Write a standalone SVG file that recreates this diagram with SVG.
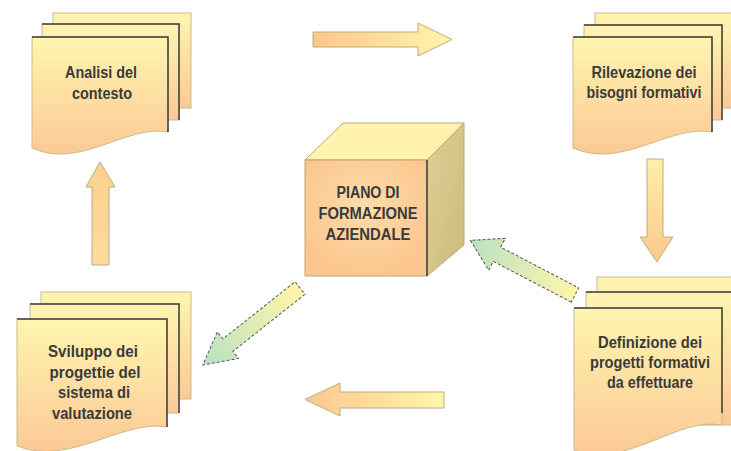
<svg xmlns="http://www.w3.org/2000/svg" width="731" height="451" viewBox="0 0 731 451">
<style>
.sheet{fill:url(#sheetGrad);stroke:#c9bb8c;stroke-width:1}
.edge{fill:none;stroke:#3d3d3d;stroke-width:1.5}
.t{font-family:"Liberation Sans Narrow","Liberation Sans",Arial,sans-serif;font-weight:bold;font-size:16px;fill:#3a3a3a;text-anchor:middle}
.arr{stroke:#bcae7c;stroke-width:1}
.darr{fill:url(#diagGrad);stroke:#555;stroke-width:1;stroke-dasharray:3 2}
</style>
<defs>
<linearGradient id="sheetGrad" x1="0" y1="0" x2="0" y2="1">
<stop offset="0" stop-color="#fff5b0"/><stop offset="1" stop-color="#fcc995"/>
</linearGradient>
<radialGradient id="cubeFront" cx="0.5" cy="0.4" r="0.6">
<stop offset="0" stop-color="#fedcaa"/><stop offset="1" stop-color="#fbc68e"/>
</radialGradient>
<linearGradient id="cubeRight" x1="0" y1="0" x2="1" y2="1">
<stop offset="0" stop-color="#e0d095"/><stop offset="1" stop-color="#cdb97c"/>
</linearGradient>
<linearGradient id="hGrad" x1="0" y1="0" x2="1" y2="0">
<stop offset="0" stop-color="#fdc68f"/><stop offset="1" stop-color="#fff6a8"/>
</linearGradient>
<linearGradient id="upGrad" x1="0" y1="0" x2="0" y2="1">
<stop offset="0" stop-color="#fdcf90"/><stop offset="1" stop-color="#fddb9c"/>
</linearGradient>
<linearGradient id="downGrad" x1="0" y1="0" x2="0" y2="1">
<stop offset="0" stop-color="#ffeeaa"/><stop offset="1" stop-color="#fcc890"/>
</linearGradient>
<linearGradient id="diagGrad" x1="0" y1="0" x2="1" y2="0">
<stop offset="0" stop-color="#fff6a8"/><stop offset="1" stop-color="#b9e0c4"/>
</linearGradient>
</defs>
<rect width="731" height="451" fill="#fff"/>

<g id="connectors">
<polygon class="arr" fill="url(#hGrad)" points="313,32 418,32 418,23 452,39.5 418,56 418,47 313,47"/>
<polygon class="arr" fill="url(#downGrad)" points="647,159 663,159 663,237 673,237 657,262 640,237 647,237"/>
<polygon class="arr" fill="url(#hGrad)" points="444,392 340,392 340,383 305,399.5 340,416 340,408 444,408"/>
<polygon class="arr" fill="url(#upGrad)" points="92,265 92,187 86,187 100,162 115,187 109,187 109,265"/>
<polygon class="darr" transform="translate(300,288) rotate(141.6)" points="0,-8 92,-8 92,-17 124,0 92,17 92,8 0,8"/>
<polygon class="darr" transform="translate(575,295) rotate(207.6)" points="0,-8 88,-8 88,-18 118,0 88,18 88,8 0,8"/>
</g>

<g id="analisi">
<rect class="sheet" x="53" y="13" width="138" height="95"/>
<rect class="sheet" x="42" y="24" width="137" height="96"/>
<polyline class="edge" points="42,24 179,24 179,120"/>
<path class="sheet" d="M32,37 H168 V132 C127,124 80,170 32,148 Z"/>
<polyline class="edge" points="32,37 168,37 168,132"/>
<text class="t" x="101" y="78" textLength="72" lengthAdjust="spacingAndGlyphs">Analisi del</text>
<text class="t" x="102" y="99" textLength="60" lengthAdjust="spacingAndGlyphs">contesto</text>
</g>

<g id="rilevazione">
<rect class="sheet" x="595" y="13" width="145" height="95"/>
<rect class="sheet" x="584" y="25" width="138" height="95"/>
<polyline class="edge" points="584,25 722,25 722,120"/>
<path class="sheet" d="M573,37 H712 V132 C670,124 622,170 573,148 Z"/>
<polyline class="edge" points="573,37 712,37 712,132"/>
<text class="t" x="644" y="78" textLength="105" lengthAdjust="spacingAndGlyphs">Rilevazione dei</text>
<text class="t" x="644" y="98" textLength="115" lengthAdjust="spacingAndGlyphs">bisogni formativi</text>
</g>

<g id="definizione">
<rect class="sheet" x="597" y="277" width="145" height="123"/>
<rect class="sheet" x="586" y="292" width="156" height="133"/>
<polyline class="edge" points="586,292 742,292"/>
<path class="sheet" d="M574,308 H722 V425 C678,416 626,470 574,450 Z"/>
<polyline class="edge" points="574,308 722,308 722,413"/>
<text class="t" x="650" y="348" textLength="104" lengthAdjust="spacingAndGlyphs">Definizione dei</text>
<text class="t" x="650" y="368" textLength="120" lengthAdjust="spacingAndGlyphs">progetti formativi</text>
<text class="t" x="650" y="388" textLength="86" lengthAdjust="spacingAndGlyphs">da effettuare</text>
</g>

<g id="sviluppo">
<rect class="sheet" x="41" y="292" width="150" height="107"/>
<rect class="sheet" x="30" y="304" width="149" height="109"/>
<polyline class="edge" points="30,304 179,304 179,413"/>
<path class="sheet" d="M17,319 H167 V427 C122,419 70,467 17,446 Z"/>
<polyline class="edge" points="17,319 167,319 167,427"/>
<text class="t" x="93" y="357" textLength="90" lengthAdjust="spacingAndGlyphs">Sviluppo dei</text>
<text class="t" x="95" y="378" textLength="91" lengthAdjust="spacingAndGlyphs">progettie del</text>
<text class="t" x="94" y="398" textLength="72" lengthAdjust="spacingAndGlyphs">sistema di</text>
<text class="t" x="92" y="419" textLength="80" lengthAdjust="spacingAndGlyphs">valutazione</text>
</g>

<g id="piano">
<polygon points="305,160 343,123 464,123 427,160" fill="#fff3ae" stroke="#bba874" stroke-width="1"/>
<polygon points="427,160 464,123 464,245 427,276" fill="url(#cubeRight)" stroke="#bba874" stroke-width="1"/>
<rect x="305" y="160" width="122" height="116" fill="url(#cubeFront)" stroke="#bba874" stroke-width="1"/>
<line x1="427" y1="160" x2="427" y2="276" stroke="#3d3d3d" stroke-width="1.5"/>
<text class="t" x="368" y="198" textLength="63" lengthAdjust="spacingAndGlyphs">PIANO DI</text>
<text class="t" x="368" y="219" textLength="99" lengthAdjust="spacingAndGlyphs">FORMAZIONE</text>
<text class="t" x="368" y="240" textLength="85" lengthAdjust="spacingAndGlyphs">AZIENDALE</text>
</g>
</svg>
